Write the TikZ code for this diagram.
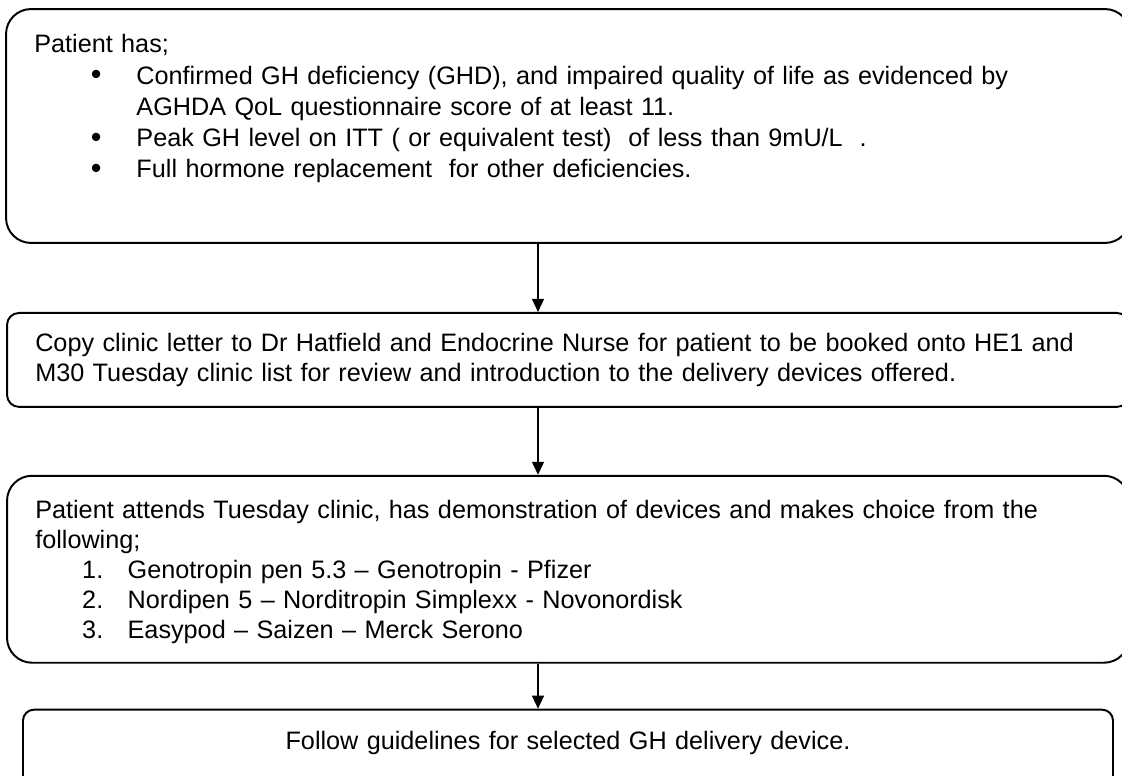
\documentclass[tikz,border=0pt]{standalone}
\usepackage{fontspec}
\setmainfont{Liberation Sans}
\usetikzlibrary{positioning,arrows.meta}
\newcommand{\bulletline}[1]{\hspace*{26pt}\makebox[21pt][l]{\raisebox{-0.4pt}{\fontsize{14pt}{0pt}\selectfont\textbullet}}#1}
\newcommand{\wrapline}[1]{\hspace*{47pt}#1}
\newcommand{\numline}[2]{\hspace*{21.6pt}\makebox[20.9pt][l]{#1.}#2}
\tikzset{
    block/.style={
        rectangle,
        draw,
        line width=0.9pt,
        inner xsep=13pt,
        inner ysep=0pt,
        align=left,
        font=\fontsize{11.6pt}{13.8pt}\selectfont % Word-like single spacing
    }
}

\begin{document}
\begin{tikzpicture}[x=0.46pt, y=0.46pt, >={Triangle[length=6pt,width=5.5pt]}, line width=0.7pt]
    \useasboundingbox (0,0) rectangle (1122,-776);
    \node (criteria) [block, font=\fontsize{11.6pt}{14.3pt}\selectfont, rounded corners=11.5pt, text width=491pt, minimum height=107.6pt] at (568,-126)
        {Patient has;\\
         \bulletline{Confirmed GH deficiency (GHD), and impaired quality of life as evidenced by}\\
         \wrapline{AGHDA QoL questionnaire score of at least 11.}\\
         \bulletline{Peak GH level on ITT ( or equivalent test)\ \ of less than 9mU/L\ \ .}\\
         \bulletline{Full hormone replacement\ \ for other deficiencies.}\\[4.1pt]
         \mbox{}};
    \node (letter) [block, rounded corners=5.5pt, text width=490.1pt, minimum height=43.2pt, below=31.3pt of criteria]
        {Copy clinic letter to Dr Hatfield and Endocrine Nurse for patient to be booked onto HE1 and\\
         M30 Tuesday clinic list for review and introduction to the delivery devices offered.};
    \node (choice) [block, rounded corners=11.5pt, text width=490.1pt, minimum height=86pt, below=30.8pt of letter]
        {\rule{0pt}{11.3pt}Patient attends Tuesday clinic, has demonstration of devices and makes choice from the\\
         following;\\
         \numline{1}{Genotropin pen 5.3 – Genotropin - Pfizer}\\
         \numline{2}{Nordipen 5 – Norditropin Simplexx - Novonordisk}\\
         \numline{3}{Easypod – Saizen – Merck Serono}};
    \node (device) [block, align=center, rounded corners=5pt, text width=475.4pt, minimum height=42.3pt, below=20.7pt of choice]
        {Follow guidelines for selected GH delivery device.\\
         \mbox{}};
    \coordinate (spine) at (538,0);

    \draw [->] (criteria.south -| spine) -- (letter.north -| spine);
    \draw [->] (letter.south -| spine) -- (choice.north -| spine);
    \draw [->] (choice.south -| spine) -- (device.north -| spine);
\end{tikzpicture}
\end{document}
